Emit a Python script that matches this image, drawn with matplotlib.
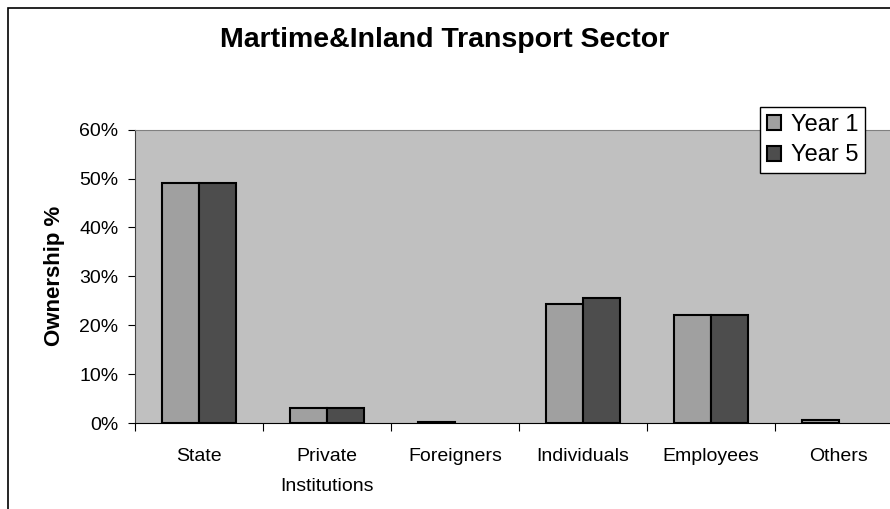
import matplotlib.pyplot as plt
import numpy as np
from matplotlib.patches import Rectangle
from matplotlib.ticker import FixedLocator, PercentFormatter

plt.rcParams['font.family'] = ['Liberation Sans', 'DejaVu Sans']

categories = ["State", "Private\nInstitutions", "Foreigners", "Individuals", "Employees", "Others"]
year1 = [49.0, 3.0, 0.3, 24.3, 22.0, 0.7]
year5 = [49.0, 3.0, 0.0, 25.5, 22.0, 0.0]

fig = plt.figure(figsize=(8.9, 5.09), dpi=100)

# outer chart frame (right/bottom edges fall outside the picture)
fig.patches.append(Rectangle((8 / 890, -0.1), 1.2, 1.1 - 8 / 509, transform=fig.transFigure,
                             fill=False, edgecolor="black", linewidth=1.2))

ax = fig.add_axes([135 / 890, 86 / 509, 768 / 890, 293.4 / 509])
ax.set_facecolor("#c0c0c0")

x = np.arange(len(categories))
w = 1 / 3.5
y1 = np.array(year1)
y5 = np.array(year5)
# zero values draw nothing, like the original
m1 = y1 > 0
m5 = y5 > 0
ax.bar(x[m1] - w / 2, y1[m1], w, color="#a0a0a0", edgecolor="black", linewidth=1.5, label="Year 1")
ax.bar(x[m5] + w / 2, y5[m5], w, color="#4d4d4d", edgecolor="black", linewidth=1.5, label="Year 5")

ax.set_xlim(-0.5, len(categories) - 0.5)
ax.set_ylim(0, 60)
ax.set_yticks(np.arange(0, 61, 10))
ax.yaxis.set_major_formatter(PercentFormatter(decimals=0))
ax.set_xticks(x)
ax.set_xticklabels(categories, fontsize=14, linespacing=2.0)
ax.xaxis.set_minor_locator(FixedLocator(np.arange(-0.5, len(categories), 1)))
ax.tick_params(axis="x", which="major", length=0, pad=18)
ax.tick_params(axis="x", which="minor", length=6, width=0.8, direction="out")
ax.tick_params(axis="y", length=5, width=0.8, direction="out", labelsize=14, pad=7)

for s in ["top", "right"]:
    ax.spines[s].set_color("#808080")
ax.spines["left"].set_color("#404040")
ax.spines["bottom"].set_color("black")

ax.set_ylabel("Ownership %", fontsize=16, fontweight="bold", labelpad=10)

fig.text(445 / 890, 1 - 40 / 509, "Martime&Inland Transport Sector", ha="center", va="center",
         fontsize=20.5, fontweight="bold")

leg = ax.legend(loc="upper left", bbox_to_anchor=(760 / 890, 1 - 107 / 509), bbox_transform=fig.transFigure,
                fontsize=17, frameon=True, fancybox=False, edgecolor="black", framealpha=1,
                handlelength=0.6, handleheight=0.6, handletextpad=0.4, borderpad=0.3, labelspacing=0.35,
                borderaxespad=0)
leg.get_frame().set_linewidth(1.0)

fig.savefig("out.png", dpi=100)
